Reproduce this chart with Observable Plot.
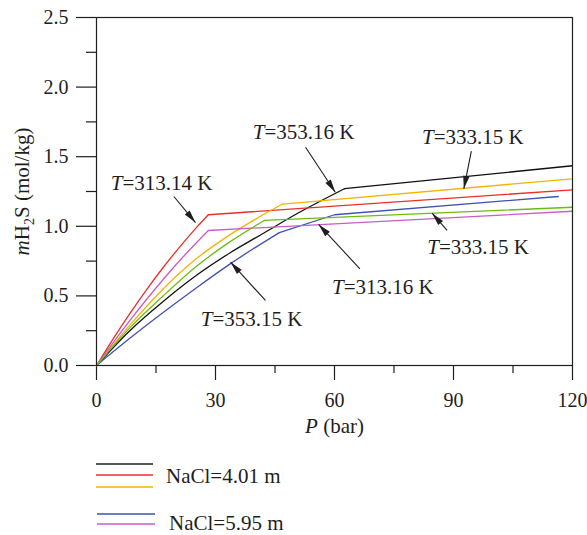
<!DOCTYPE html>
<html>
<head>
<meta charset="utf-8">
<script src="https://cdn.jsdelivr.net/npm/d3@7"></script>
<script src="https://cdn.jsdelivr.net/npm/@observablehq/plot@0.6"></script>
<style>
  body { margin: 0; background: #fff; font-family: "Liberation Serif", "Times New Roman", serif; }
  #chart svg { display: block; }
  #legend { display: block; }
</style>
</head>
<body>
<div id="chart"></div>
<svg id="legend" width="587" height="95"></svg>
<script>
// ---- Data ----
// NaCl = 4.01 m
const P_black  = [0, 8.4, 16.8, 25.3, 33.7, 42.1, 50.5, 62.5, 120];          // T = 353.16 K
const m_black  = [0, 0.25, 0.46, 0.65, 0.81, 0.95, 1.09, 1.27, 1.435];
const P_red    = [0, 4.2, 8.4, 12.6, 16.8, 21.1, 25.3, 28.2, 120];           // T = 313.14 K
const m_red    = [0, 0.192, 0.373, 0.544, 0.704, 0.856, 0.994, 1.083, 1.262];
const P_yellow = [0, 8.4, 16.8, 25.3, 33.7, 40, 46.9, 120];                  // T = 333.15 K
const m_yellow = [0, 0.29, 0.55, 0.77, 0.94, 1.05, 1.16, 1.341];
// NaCl = 5.95 m
const P_blue    = [0, 8.4, 16.8, 25.3, 33.7, 46.1, 60, 116.4];               // T = 353.15 K
const m_blue    = [0, 0.195, 0.38, 0.56, 0.73, 0.955, 1.083, 1.214];
const P_magenta = [0, 4.2, 8.4, 12.6, 16.8, 21.1, 25.3, 28.2, 120];          // T = 313.16 K
const m_magenta = [0, 0.165, 0.323, 0.474, 0.618, 0.758, 0.885, 0.97, 1.108];
const P_green   = [0, 8.4, 16.8, 25.3, 33.7, 42.3, 120];                     // T = 333.15 K
const m_green   = [0, 0.27, 0.50, 0.715, 0.89, 1.042, 1.137];

const seriesNames  = ["black", "red", "yellow", "blue", "magenta", "green"];
const seriesColors = ["#111111", "#e8302a", "#f5b400", "#3f51b5", "#c95cc6", "#6cbd10"];
const seriesP = [P_black, P_red, P_yellow, P_blue, P_magenta, P_green];
const seriesM = [m_black, m_red, m_yellow, m_blue, m_magenta, m_green];
// index of the point where the curved part ends and straight segments begin
const seriesKink = [7, 7, 6, 5, 7, 5];

// tick values
const xTicks = [0, 30, 60, 90, 120];
const xMinorTicks = [15, 45, 75, 105];
const yTicks = [0, 0.5, 1.0, 1.5, 2.0, 2.5];
const yMinorTicks = [0.25, 0.75, 1.25, 1.75, 2.25];

// annotations (data coordinates)
const annLabels = ["T=313.14 K", "T=353.16 K", "T=333.15 K", "T=333.15 K", "T=313.16 K", "T=353.15 K"];
const annP      = [16.4, 52.2, 94.9, 96.2, 72.2, 39.1];
const annM      = [1.31, 1.674, 1.64, 0.85, 0.5625, 0.335];
const arrP1     = [19.5, 52.7, 94.5, 88.4, 66.4, 42.6];
const arrM1     = [1.214, 1.568, 1.54, 0.97, 0.695, 0.467];
const arrP2     = [24.96, 60.2, 92.6, 84.6, 56.0, 33.8];
const arrM2     = [1.027, 1.245, 1.269, 1.094, 1.013, 0.742];

const legendGroups = [
  {label: "NaCl=4.01 m", series: [0, 1, 2]},
  {label: "NaCl=5.95 m", series: [3, 4]}
];

// ---- Build per-series tables ----
const seriesRows = seriesNames.map((s, i) => seriesP[i].map((p, j) => ({P: p, m: seriesM[i][j]})));
const annIdx = d3.range(annLabels.length);

// ---- Layout ----
const W = 587, H = 440, ML = 96, MR = 15, MT = 17, MB = 75;
const xDomain = [0, 120], yDomain = [0, 2.5];
const kx = (W - ML - MR) / (xDomain[1] - xDomain[0]);
const ky = (H - MT - MB) / (yDomain[1] - yDomain[0]);
const arrowAngle = annIdx.map(i => {
  const dx = (arrP2[i] - arrP1[i]) * kx;
  const dyScreen = -(arrM2[i] - arrM1[i]) * ky;
  return Math.atan2(dx, -dyScreen) * 180 / Math.PI;
});

const lineMarks = [];
seriesRows.forEach((rows, i) => {
  const k = seriesKink[i];
  lineMarks.push(Plot.line(rows.slice(0, k + 1), {x: "P", y: "m", stroke: seriesColors[i], strokeWidth: 1.3, curve: "monotone-x"}));
  lineMarks.push(Plot.line(rows.slice(k), {x: "P", y: "m", stroke: seriesColors[i], strokeWidth: 1.3}));
});

const ink = "#1e1e1e";
const plot = Plot.plot({
  width: W, height: H,
  marginLeft: ML, marginRight: MR, marginTop: MT, marginBottom: MB,
  style: {fontFamily: "Liberation Serif, Times New Roman, serif", background: "#fff", color: ink},
  x: {domain: xDomain},
  y: {domain: yDomain},
  marks: [
    Plot.axisX(xTicks, {tickSize: 15, tickPadding: 12, fontSize: 20, label: null, strokeWidth: 1.2}),
    Plot.axisX(xMinorTicks, {tickSize: 8, tickFormat: () => "", label: null, strokeWidth: 1.2}),
    Plot.axisY(yTicks, {tickSize: 20, tickPadding: 8, fontSize: 20, label: null, tickFormat: d3.format(".1f"), strokeWidth: 1.2}),
    Plot.axisY(yMinorTicks, {tickSize: 10, tickFormat: () => "", label: null, strokeWidth: 1.2}),
    ...lineMarks,
    Plot.frame({stroke: ink, strokeWidth: 1.2}),
    Plot.link(annIdx, {x1: i => arrP1[i], y1: i => arrM1[i], x2: i => arrP2[i], y2: i => arrM2[i], stroke: ink, strokeWidth: 1.1}),
    Plot.vector(annIdx, {x: i => arrP2[i], y: i => arrM2[i], rotate: i => arrowAngle[i], length: 13, r: 3.2, shape: "spike", anchor: "end", fill: ink, stroke: "none"}),
    Plot.text(annIdx, {x: i => annP[i], y: i => annM[i], text: i => annLabels[i], fontSize: 21, fill: ink}),
    Plot.text(["P (bar)"], {frameAnchor: "bottom", dy: 61, text: d => d, fontSize: 21, fill: ink, textAnchor: "middle", lineAnchor: "middle"}),
    Plot.text(["mH2S (mol/kg)"], {frameAnchor: "left", dx: -74, rotate: -90, text: d => d, fontSize: 21, fill: ink, textAnchor: "middle", lineAnchor: "middle"})
  ]
});
document.getElementById("chart").appendChild(plot);

// rich text: italic variables, subscript
d3.select(plot).selectAll("text").each(function() {
  const t = this.textContent;
  const sel = d3.select(this);
  if (t.startsWith("T=")) {
    sel.text(null);
    sel.append("tspan").attr("font-style", "italic").text("T");
    sel.append("tspan").text(t.slice(1));
  } else if (t === "P (bar)") {
    sel.text(null);
    sel.append("tspan").attr("font-style", "italic").text("P");
    sel.append("tspan").text(" (bar)");
  } else if (t === "mH2S (mol/kg)") {
    sel.text(null);
    sel.append("tspan").attr("font-style", "italic").text("m");
    sel.append("tspan").text("H");
    sel.append("tspan").attr("font-size", 14).attr("dy", 5).text("2");
    sel.append("tspan").attr("dy", -5).text("S (mol/kg)");
  }
});

// ---- Legend below the chart ----
const lg = d3.select("#legend");
const lineYs = [[24, 35, 47], [74, 84]];
const textYs = [43, 90];
const textXs = [166, 169];
legendGroups.forEach((g, gi) => {
  g.series.forEach((si, k) => {
    lg.append("line")
      .attr("x1", 96 + gi).attr("x2", 153 + gi * 2)
      .attr("y1", lineYs[gi][k]).attr("y2", lineYs[gi][k])
      .attr("stroke", si === 0 ? "#555" : seriesColors[si])
      .attr("stroke-width", si === 0 ? 2 : 1.3);
  });
  lg.append("text")
    .attr("x", textXs[gi]).attr("y", textYs[gi])
    .attr("font-family", "Liberation Serif, Times New Roman, serif")
    .attr("font-size", 21).attr("fill", ink)
    .text(g.label);
});
</script>
</body>
</html>
